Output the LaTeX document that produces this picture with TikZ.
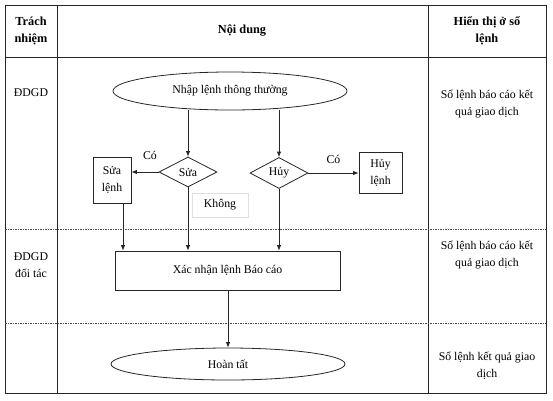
\documentclass[tikz,border=0pt]{standalone}
\usepackage{fontspec}
\setmainfont{Liberation Serif}
\usetikzlibrary{shapes.geometric,arrows.meta}

\begin{document}
\begin{tikzpicture}[x = 1pt, y = -1pt, >={Latex[length = 5.5pt, width = 4.5pt]},
  font = \fontsize{11.8}{17}\selectfont, line width = 0.8pt, draw = black!85,
  oval/.style = {ellipse, draw, inner sep = 0pt},
  choice/.style = {diamond, draw, inner sep = 0pt, minimum width = 58pt, minimum height = 30pt},
  boxstep/.style = {rectangle, draw, inner sep = 0pt, align = center},
  lane/.style = {black!70, line width = 0.6pt, dash pattern = on 1.5pt off 1pt}]
\useasboundingbox (0,0) rectangle (553,400);
% table frame
\draw (5,5) rectangle (546,393);
\draw (57,5) -- (57,393);
\draw (428,5) -- (428,393);
\draw (5,57) -- (546,57);
\draw[lane] (5,229) -- (546,229);
\draw[lane] (5,323) -- (546,323);
% header
\node[align = center, font = \fontsize{12.3}{17}\selectfont\bfseries] (h1) at (31,31) {Trách\\nhiệm};
\node[font = \fontsize{12.3}{17}\selectfont\bfseries] (h2) at (242,31) {Nội dung};
\node[align = center, font = \fontsize{12.3}{17}\selectfont\bfseries] (h3) at (487,31) {Hiển thị ở sổ\\lệnh};
% left column
\node (r1) at (31,93) {ĐDGD};
\node[align = center] (r2) at (31,265) {ĐDGD\\đối tác};
% right column
\node[align = center] (s1) at (487,104) {Sổ lệnh báo cáo kết\\quả giao dịch};
\node[align = center] (s2) at (487,255) {Sổ lệnh báo cáo kết\\quả giao dịch};
\node[align = center] (s3) at (487,366) {Sổ lệnh kết quả giao\\dịch};
% flow
\node[oval, minimum width = 234pt, minimum height = 38pt] (nhap) at (230,91) {Nhập lệnh thông thường};
\node[choice] (sua) at (188,172) {Sửa};
\node[choice] (huy) at (279,173) {Hủy};
\node[boxstep, minimum width = 38pt, minimum height = 46pt] (sualenh) at (112,180) {Sửa\\lệnh};
\node[boxstep, minimum width = 43pt, minimum height = 41pt] (huylenh) at (380.5,172.5) {Hủy\\lệnh};
\node[boxstep, draw = black!12, line width = 0.5pt, minimum width = 56pt, minimum height = 24pt] (khong) at (220,205) {Không};
\node[boxstep, minimum width = 225pt, minimum height = 39pt] (xacnhan) at (227.5,270.5) {Xác nhận lệnh Báo cáo};
\node[oval, minimum width = 234pt, minimum height = 32pt] (hoantat) at (228,364) {Hoàn tất};
% connectors
\draw[->] (sua.north |- nhap.south) -- (sua.north);
\draw[->] (huy.north |- nhap.south) -- (huy.north);
\draw[->] (sua.west) -- node[pos = 0.5, above, yshift = 9pt, xshift = 5pt] (co1) {Có} (sua.west -| sualenh.east);
\draw[->] (huy.east) -- node[pos = 0.5, above, yshift = 6pt] (co2) {Có} (huy.east -| huylenh.west);
\draw[->] ([xshift = 11pt]sualenh.south) -- ([xshift = 11pt]sualenh.south |- xacnhan.north);
\draw[->] (sua.south) -- (sua.south |- xacnhan.north);
\draw[->] (huy.south) -- (huy.south |- xacnhan.north);
\draw[->] (xacnhan.south -| hoantat.north) -- (hoantat.north);
\end{tikzpicture}
\end{document}
